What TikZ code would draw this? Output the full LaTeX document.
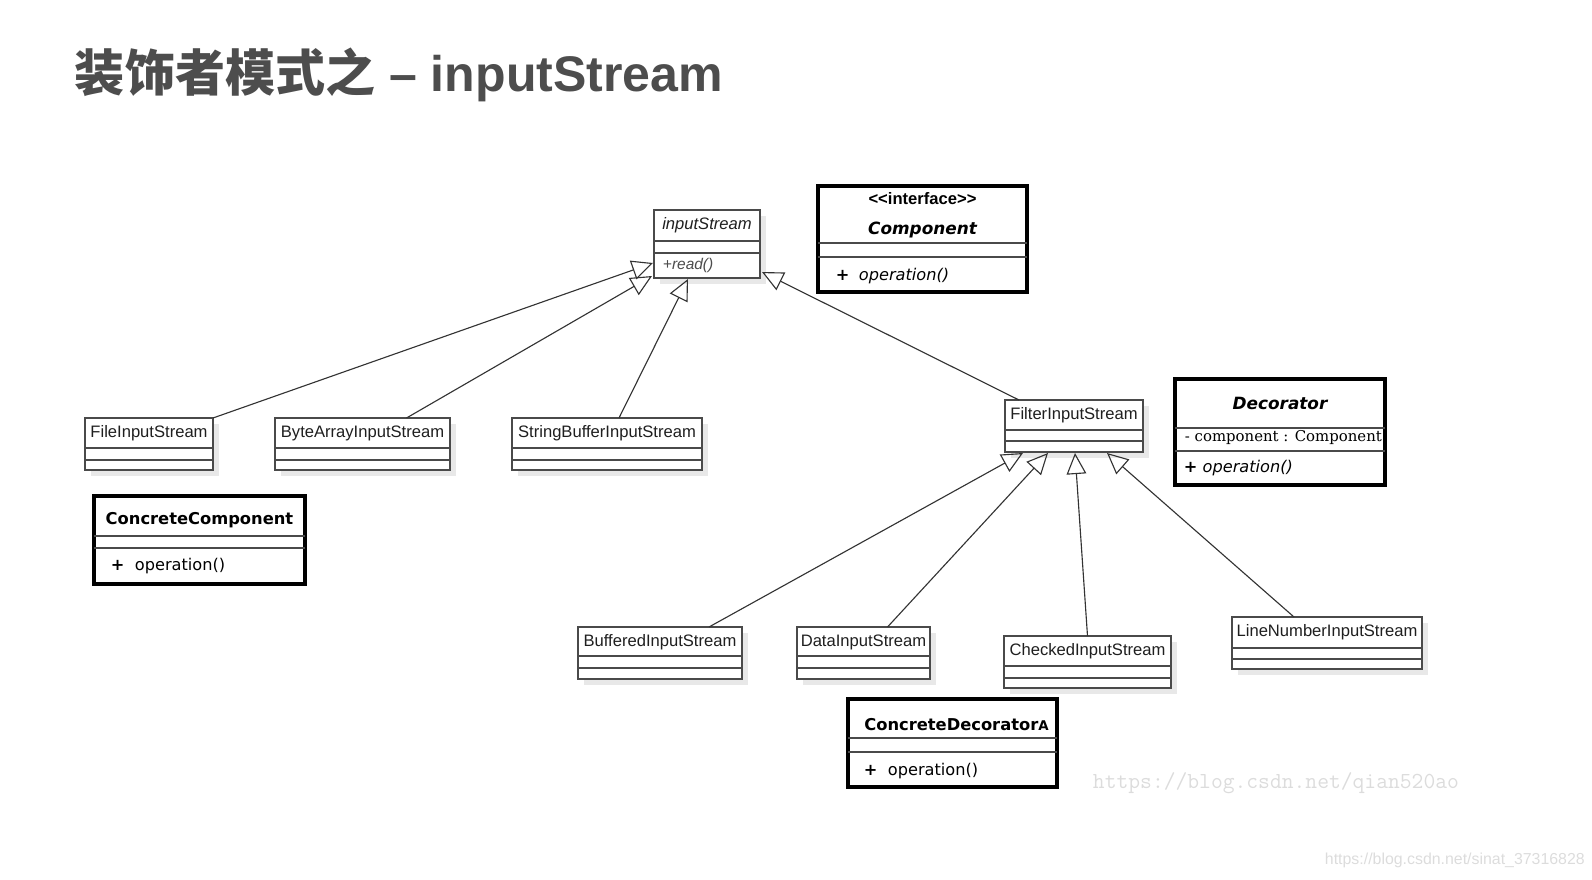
\documentclass[tikz,border=0pt]{standalone}
\usepackage{fontspec}
\setmainfont{Liberation Sans}
\newfontfamily\cjk{Noto Sans CJK SC}
\newfontfamily\djv{DejaVu Sans}
\newfontfamily\djvserif{DejaVu Serif}
\usetikzlibrary{arrows.meta,calc,fit,shadows}

\definecolor{titlegray}{HTML}{4D4D4D}
\definecolor{boxline}{HTML}{4A4A4A}
\definecolor{marktext}{HTML}{DCDCDC}

\tikzset{
  cls/.style={draw=boxline, line width=1pt, fill=white, inner sep=0pt, outer sep=0pt,
    drop shadow={shadow xshift=4pt, shadow yshift=-4pt, fill=black!9, opacity=1}},
  thickcls/.style={draw=black, line width=2.6pt, fill=white, inner sep=0pt, outer sep=0pt},
  divline/.style={draw=boxline, line width=1pt},
  inh/.style={draw=black!80, line width=0.8pt,
    -{Triangle[open, length=15pt, width=14pt, line width=0.8pt]}},
  clsname/.style={font=\fontsize{11.8}{14}\selectfont, text=black!88},
  umlbold/.style={font=\djv\bfseries\fontsize{11.6}{14}\selectfont},
  umlop/.style={anchor=west, font=\djv\fontsize{11.5}{14}\selectfont},
}

% class box: name, x, y, width, height, two dividers measured from the top
\newcommand{\umlbox}[8][cls]{%
  \node[#1, fit={(#3,#4) (#3+#5,#4+#6)}] (#2) {};
  \draw[divline] ($(#2.north west)+(0,#7)$) -- ($(#2.north east)+(0,#7)$)
                 ($(#2.north west)+(0,#8)$) -- ($(#2.north east)+(0,#8)$);
}

\begin{document}
\begin{tikzpicture}[x=0.025cm, y=-0.025cm]
	\useasboundingbox (0,0) rectangle (1592,880);
	
	\node[anchor=base west, font=\bfseries\fontsize{35.6}{42}\selectfont, text=titlegray] (title) at (70,92) {{\cjk 装饰者模式之} – inputStream};
	
	% top row
	\umlbox{istream}{654}{210}{106}{68}{31}{43}
	\node[clsname, font=\itshape\fontsize{11.8}{14}\selectfont] (istream-name) at ($(istream.north)+(0,15)$) {inputStream};
	\node[anchor=west, font=\itshape\fontsize{11}{13}\selectfont, text=black!70] (istream-op) at ($(istream.north west)+(4,55)$) {+read()};
	
	\umlbox[thickcls]{comp}{818}{186}{209}{106}{57}{71}
	\node[font=\bfseries\fontsize{11.8}{13}\selectfont] (comp-st) at ($(comp.north)+(0,13)$) {<{}<interface>{}>};
	\node[umlbold, font=\djv\bfseries\itshape\fontsize{12}{14}\selectfont] (comp-name) at ($(comp.north)+(0,44)$) {Component};
	\node[umlop] (comp-op) at ($(comp.north west)+(13,90)$) {\textbf{+}\hspace{6.7pt}\textit{operation()}};
	
	% concrete components
	\umlbox{file}{85}{418}{128}{52}{30}{42}
	\node[clsname] (file-name) at ($(file.north)+(0,15)$) {FileInputStream};
	\umlbox{bytearr}{275}{418}{175}{52}{30}{42}
	\node[clsname] (bytearr-name) at ($(bytearr.north)+(0,15)$) {ByteArrayInputStream};
	\umlbox{strbuf}{512}{418}{190}{52}{30}{42}
	\node[clsname] (strbuf-name) at ($(strbuf.north)+(0,15)$) {StringBufferInputStream};
	
	\umlbox[thickcls]{concomp}{94}{496}{211}{88}{40}{52}
	\node[umlbold] (concomp-name) at ($(concomp.north)+(0,24)$) {ConcreteComponent};
	\node[umlop] (concomp-op) at ($(concomp.north west)+(12,70)$) {\textbf{+}\hspace{7.4pt}operation()};
	
	% decorators
	\umlbox{filter}{1005}{400}{138}{52}{30}{41}
	\node[clsname] (filter-name) at ($(filter.north)+(0,15)$) {FilterInputStream};
	
	\umlbox[thickcls]{deco}{1175}{379}{210}{106}{49}{72}
	\node[umlbold, font=\djv\bfseries\itshape\fontsize{12}{14}\selectfont] (deco-name) at ($(deco.north)+(0,24)$) {Decorator};
	\node[anchor=west, font=\djvserif\fontsize{10.6}{13}\selectfont] (deco-attr) at ($(deco.north west)+(5,59)$) {- component : Component};
	\node[umlop] (deco-op) at ($(deco.north west)+(4,89)$) {\textbf{+} \textit{operation()}};
	
	\umlbox{buffered}{578}{627}{164}{52}{29}{41}
	\node[clsname] (buffered-name) at ($(buffered.north)+(0,15)$) {BufferedInputStream};
	\umlbox{data}{797}{627}{133}{52}{29}{41}
	\node[clsname] (data-name) at ($(data.north)+(0,15)$) {DataInputStream};
	\umlbox{checked}{1004}{636}{167}{52}{30}{42}
	\node[clsname] (checked-name) at ($(checked.north)+(0,15)$) {CheckedInputStream};
	\umlbox{linenum}{1232}{617}{190}{52}{31}{42}
	\node[clsname] (linenum-name) at ($(linenum.north)+(0,15)$) {LineNumberInputStream};
	
	\umlbox[thickcls]{condeco}{848}{699}{209}{88}{39}{53}
	\node[umlbold] (condeco-name) at ($(condeco.north)+(4,26)$) {ConcreteDecorator{\fontsize{9.5}{11}\selectfont A}};
	\node[umlop] (condeco-op) at ($(condeco.north west)+(11,72)$) {\textbf{+}\hspace{7.4pt}operation()};
	
	% generalisations
	\draw [inh] (file.north east) -- ($(istream.south west)+(-1,-15)$);
	\draw [inh] ($(bytearr.north)+(44,0)$) -- ($(istream.south west)+(-2,-2)$);
	\draw [inh] ($(strbuf.north)+(12,0)$) -- ($(istream.south)+(-19,1)$);
	\draw [inh] ($(filter.north west)+(14,0)$) -- ($(istream.south east)+(2,-6)$);
	
	\draw [inh] ($(buffered.north)+(49,0)$) -- ($(filter.south)+(-51,1)$);
	\draw [inh] ($(data.north)+(24,0)$) -- ($(filter.south)+(-26,1)$);
	\draw [inh] (checked.north) -- ($(filter.south)+(1,1)$);
	\draw [inh] ($(linenum.north)+(-33,0)$) -- ($(filter.south)+(33,1)$);
	
	% watermarks
	\node[anchor=west, font=\ttfamily\fontsize{16.3}{18}\selectfont, text=marktext] (mark1) at (1088,783) {https://blog.csdn.net/qian520ao};
	\node[anchor=west, font=\fontsize{11.3}{13}\selectfont, text=marktext] (mark2) at (1320,860) {https://blog.csdn.net/sinat\_37316828};
	
\end{tikzpicture}
\end{document}
